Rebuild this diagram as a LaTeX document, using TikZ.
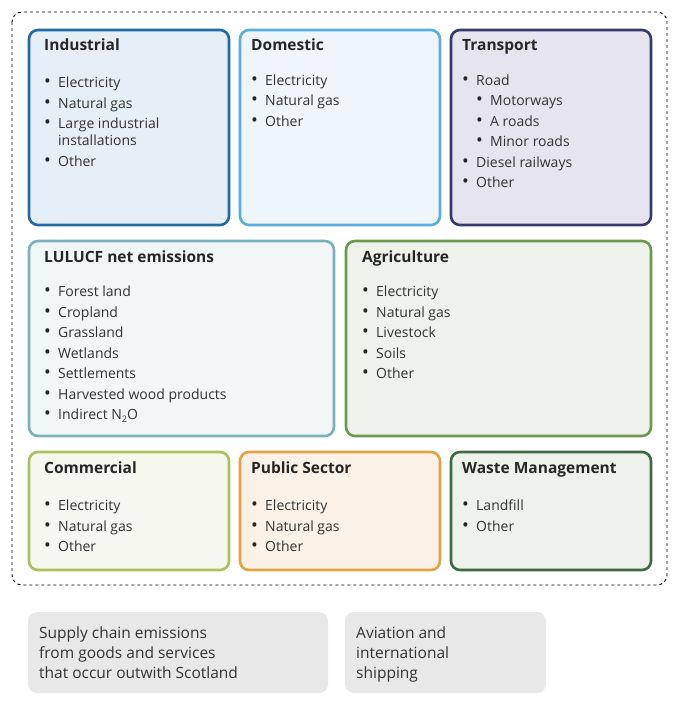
\documentclass[tikz,border=0pt]{standalone}
\usepackage{fontspec}
\setmainfont{Open Sans}
\begin{document}
\begin{tikzpicture}[x=1pt,y=-1pt,
  box/.style={draw,line width=2.6pt,rounded corners=9pt},
  ttl/.style={anchor=base west,font=\fontsize{15.5}{18}\selectfont\bfseries,text=black!85,inner sep=0},
  itm/.style={anchor=base west,font=\fontsize{14}{16}\selectfont,text=black!80,inner sep=0},
  bul/.style={anchor=base west,font=\fontsize{18}{16}\selectfont,text=black!85,inner sep=0},
  gbox/.style={fill=black!9,rounded corners=9pt},
  gtxt/.style={anchor=north west,align=left,font=\fontsize{15.5}{20}\selectfont,text=black!80,inner sep=0}]
\useasboundingbox (0,0) rectangle (678,708);
\definecolor{cInd}{HTML}{1E6BA6}\definecolor{fInd}{HTML}{E6EEF7}
\definecolor{cDom}{HTML}{5AAEDF}\definecolor{fDom}{HTML}{EEF5FB}
\definecolor{cTra}{HTML}{363A6B}\definecolor{fTra}{HTML}{E6E4EE}
\definecolor{cLul}{HTML}{7BB2BA}\definecolor{fLul}{HTML}{F1F6F7}
\definecolor{cAgr}{HTML}{6C9850}\definecolor{fAgr}{HTML}{EFF2EA}
\definecolor{cCom}{HTML}{A9C05C}\definecolor{fCom}{HTML}{F6F8EF}
\definecolor{cPub}{HTML}{E3A244}\definecolor{fPub}{HTML}{FBF1E6}
\definecolor{cWas}{HTML}{3D6A42}\definecolor{fWas}{HTML}{EEF1EC}
\draw[dashed,line width=0.9pt,rounded corners=10pt] (12,12) rectangle (667,585);
\draw[box,draw=cInd,fill=fInd] (29,30) rectangle (229,225);
\draw[box,draw=cDom,fill=fDom] (240,30) rectangle (440,225);
\draw[box,draw=cTra,fill=fTra] (451,30) rectangle (651,225);
\draw[box,draw=cLul,fill=fLul] (29,241) rectangle (334,436);
\draw[box,draw=cAgr,fill=fAgr] (346,241) rectangle (651,436);
\draw[box,draw=cCom,fill=fCom] (29,452) rectangle (229,570);
\draw[box,draw=cPub,fill=fPub] (240,452) rectangle (440,570);
\draw[box,draw=cWas,fill=fWas] (451,452) rectangle (651,570);
\newcommand\items[4]{% x y name list
  \foreach \t [count=\i] in {#4}{
    \node[bul] (#3b\i) at (#1,{#2+(\i-1)*20.5}) {•};
    \node[itm] (#3\i) at ({#1+14},{#2+(\i-1)*20.5}) {\t};}}
\node[ttl] (tInd) at (44,51) {Industrial};
\node[ttl] (tDom) at (251,51) {Domestic};
\node[ttl] (tTra) at (462,51) {Transport};
\node[ttl] (tLul) at (44,262) {LULUCF net emissions};
\node[ttl] (tAgr) at (362,262) {Agriculture};
\node[ttl] (tCom) at (44,473) {Commercial};
\node[ttl] (tPub) at (251,473) {Public Sector};
\node[ttl] (tWas) at (462,473) {Waste Management};
\node[bul] (ib1) at (44,88) {•};\node[itm] (i1) at (58,88) {Electricity};
\node[bul] (ib2) at (44,108.5) {•};\node[itm] (i2) at (58,108.5) {Natural gas};
\node[bul] (ib3) at (44,129) {•};\node[itm] (i3) at (58,129) {Large industrial};
\node[itm] (i3b) at (58,146) {installations};
\node[bul] (ib4) at (44,166.5) {•};\node[itm] (i4) at (58,166.5) {Other};
\items{251}{85.5}{d}{Electricity,Natural gas,Other}
\node[bul] (tb1) at (462,85.5) {•};\node[itm] (tr1) at (476,85.5) {Road};
\node[bul] (tb2) at (476,106) {•};\node[itm] (tr2) at (490,106) {Motorways};
\node[bul] (tb3) at (476,126.5) {•};\node[itm] (tr3) at (490,126.5) {A roads};
\node[bul] (tb4) at (476,147) {•};\node[itm] (tr4) at (490,147) {Minor roads};
\node[bul] (tb5) at (462,167.5) {•};\node[itm] (tr5) at (476,167.5) {Diesel railways};
\node[bul] (tb6) at (462,188) {•};\node[itm] (tr6) at (476,188) {Other};
\items{44}{296.5}{l}{Forest land,Cropland,Grassland,Wetlands,Settlements,Harvested wood products,Indirect N\raisebox{-3pt}{\fontsize{9}{9}\selectfont 2}O}
\items{362}{296.5}{a}{Electricity,Natural gas,Livestock,Soils,Other}
\items{44}{510.5}{c}{Electricity,Natural gas,Other}
\items{251}{510.5}{p}{Electricity,Natural gas,Other}
\items{462}{510.5}{w}{Landfill,Other}
\fill[gbox] (28,612) rectangle (328,693);
\fill[gbox] (345,612) rectangle (546,693);
\node[gtxt] (g1) at (39,627) {Supply chain emissions\\from goods and services\\that occur outwith Scotland};
\node[gtxt] (g2) at (356,627) {Aviation and\\international\\shipping};
\end{tikzpicture}
\end{document}
